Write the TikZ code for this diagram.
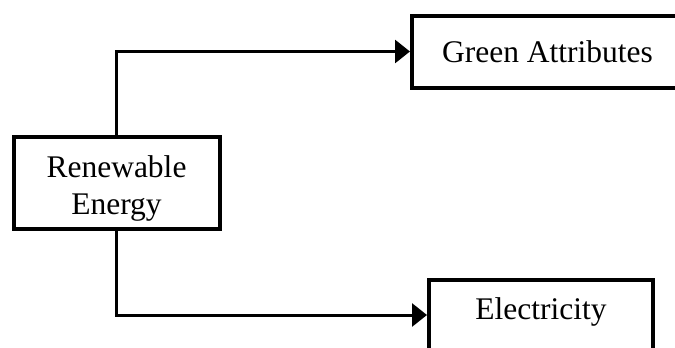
\documentclass[tikz,border=0pt]{standalone}
\usepackage{fontspec}
\setmainfont{Liberation Serif}
\usetikzlibrary{arrows.meta}
\begin{document}
\begin{tikzpicture}[x=1pt,y=-1pt,
  box/.style={draw, line width=4pt, inner sep=0pt, align=center,
    font=\fontsize{31.5}{37}\selectfont},
  conn/.style={line width=3pt, -{Triangle[length=15pt,width=23pt]}}]
\useasboundingbox (0,0) rectangle (675,348);
\clip (0,0) rectangle (675,348);
\node[box, minimum width=206pt, minimum height=92pt, text height=70pt] (R) at (116.5,183) {Renewable\\Energy};
\node[box, minimum width=271pt, minimum height=72pt] (G) at (547.5,51.5) {Green Attributes};
\node[box, minimum width=224pt, minimum height=70pt, text depth=12pt] (E) at (541,315) {Electricity};
\draw[conn] (R.north) |- (G.west);
\draw[conn] (R.south) |- (E.west);
\end{tikzpicture}
\end{document}
